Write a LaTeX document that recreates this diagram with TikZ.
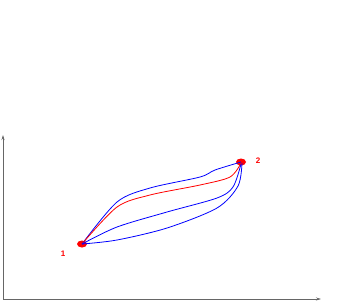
\documentclass[tikz,border=0pt]{standalone}
\usepackage{fontspec}
\setmainfont{Liberation Sans}
\usetikzlibrary{arrows.meta,shapes.geometric}
\begin{document}
\begin{tikzpicture}[x=1pt,y=-1pt,
  axis/.style={draw=black!60, line width=0.7pt, -{Stealth[length=5pt,width=3pt]}},
  pt/.style={ellipse, fill=red, minimum width=10pt, minimum height=7pt, inner sep=0pt},
  lbl/.style={text=red, font=\bfseries\fontsize{8}{9}\selectfont},
  bpath/.style={draw=blue, line width=0.8pt},
  rpath/.style={draw=red, line width=0.8pt}]
\useasboundingbox (0,0) rectangle (339,301);
\coordinate (o) at (3,299);
\coordinate (ytop) at (3,135);
\coordinate (xend) at (321,299);
\draw[axis] (o) -- (ytop);
\draw[axis] (o) -- (xend);
\node[pt] (p1) at (82,244) {};
\node[pt] (p2) at (241,162) {};
\node[lbl] (l1) at (63,254) {1};
\node[lbl] (l2) at (258,161) {2};
\draw[bpath] plot[smooth, tension=0.5] coordinates {(p1.center) (117,202) (150,188) (200,177) (215,170) (241,162)};
\draw[rpath] plot[smooth, tension=0.5] coordinates {(p1.center) (117,207) (150,195) (200,185) (230,177) (241,163)};
\draw[bpath] plot[smooth, tension=0.5] coordinates {(p1.center) (117,227) (167,212) (217,198) (233,187) (241,164)};
\draw[bpath] plot[smooth, tension=0.5] coordinates {(p1.center) (117,240) (167,228) (217,208) (238,186) (242,163)};
\end{tikzpicture}
\end{document}
